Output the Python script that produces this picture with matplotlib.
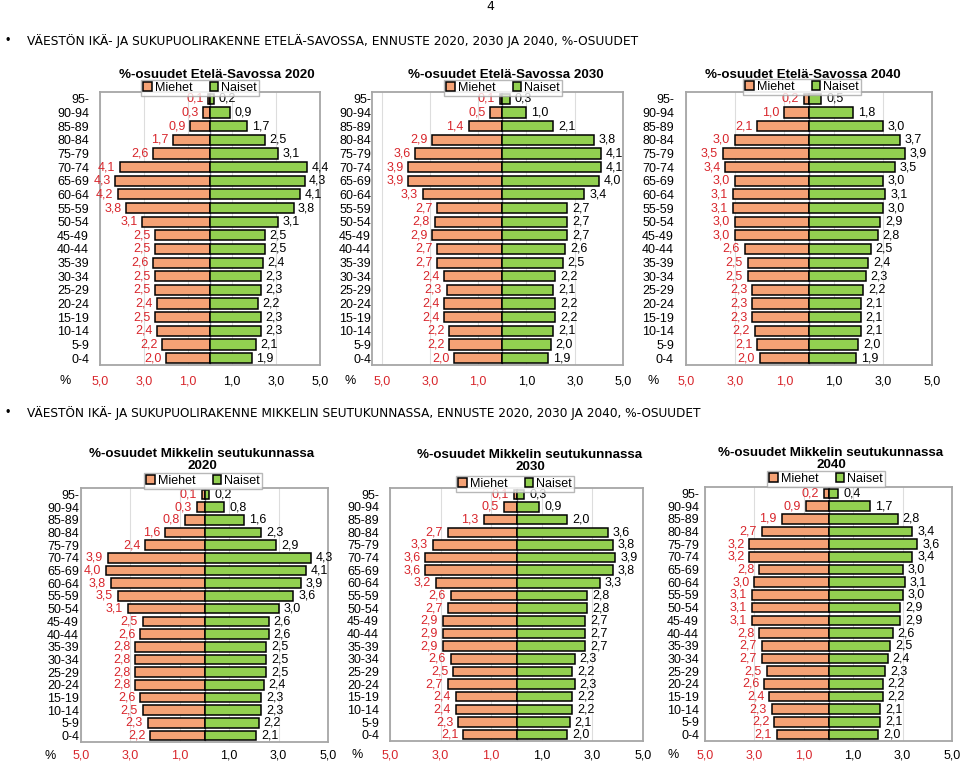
import numpy as np
import matplotlib.pyplot as plt

plt.rcParams['font.family'] = ['Liberation Sans', 'DejaVu Sans']

# age groups, top to bottom as in the pyramid
ages = ['95-', '90-94', '85-89', '80-84', '75-79', '70-74', '65-69', '60-64',
        '55-59', '50-54', '45-49', '40-44', '35-39', '30-34', '25-29',
        '20-24', '15-19', '10-14', '5-9', '0-4']

# Etelä-Savo
es2020_men = [0.1, 0.3, 0.9, 1.7, 2.6, 4.1, 4.3, 4.2, 3.8, 3.1, 2.5, 2.5, 2.6, 2.5, 2.5, 2.4, 2.5, 2.4, 2.2, 2.0]
es2020_women = [0.2, 0.9, 1.7, 2.5, 3.1, 4.4, 4.3, 4.1, 3.8, 3.1, 2.5, 2.5, 2.4, 2.3, 2.3, 2.2, 2.3, 2.3, 2.1, 1.9]
es2030_men = [0.1, 0.5, 1.4, 2.9, 3.6, 3.9, 3.9, 3.3, 2.7, 2.8, 2.9, 2.7, 2.7, 2.4, 2.3, 2.4, 2.4, 2.2, 2.2, 2.0]
es2030_women = [0.3, 1.0, 2.1, 3.8, 4.1, 4.1, 4.0, 3.4, 2.7, 2.7, 2.7, 2.6, 2.5, 2.2, 2.1, 2.2, 2.2, 2.1, 2.0, 1.9]
es2040_men = [0.2, 1.0, 2.1, 3.0, 3.5, 3.4, 3.0, 3.1, 3.1, 3.0, 3.0, 2.6, 2.5, 2.5, 2.3, 2.3, 2.3, 2.2, 2.1, 2.0]
es2040_women = [0.5, 1.8, 3.0, 3.7, 3.9, 3.5, 3.0, 3.1, 3.0, 2.9, 2.8, 2.5, 2.4, 2.3, 2.2, 2.1, 2.1, 2.1, 2.0, 1.9]

# Mikkelin seutukunta
mi2020_men = [0.1, 0.3, 0.8, 1.6, 2.4, 3.9, 4.0, 3.8, 3.5, 3.1, 2.5, 2.6, 2.8, 2.8, 2.8, 2.8, 2.6, 2.5, 2.3, 2.2]
mi2020_women = [0.2, 0.8, 1.6, 2.3, 2.9, 4.3, 4.1, 3.9, 3.6, 3.0, 2.6, 2.6, 2.5, 2.5, 2.5, 2.4, 2.3, 2.3, 2.2, 2.1]
mi2030_men = [0.1, 0.5, 1.3, 2.7, 3.3, 3.6, 3.6, 3.2, 2.6, 2.7, 2.9, 2.9, 2.9, 2.6, 2.5, 2.7, 2.4, 2.4, 2.3, 2.1]
mi2030_women = [0.3, 0.9, 2.0, 3.6, 3.8, 3.9, 3.8, 3.3, 2.8, 2.8, 2.7, 2.7, 2.7, 2.3, 2.2, 2.3, 2.2, 2.2, 2.1, 2.0]
mi2040_men = [0.2, 0.9, 1.9, 2.7, 3.2, 3.2, 2.8, 3.0, 3.1, 3.1, 3.1, 2.8, 2.7, 2.7, 2.5, 2.6, 2.4, 2.3, 2.2, 2.1]
mi2040_women = [0.4, 1.7, 2.8, 3.4, 3.6, 3.4, 3.0, 3.1, 3.0, 2.9, 2.9, 2.6, 2.5, 2.4, 2.3, 2.2, 2.2, 2.1, 2.1, 2.0]

xticks = [-5, -3, -1, 1, 3, 5]

W, H = 960, 767
fig = plt.figure(figsize=(W / 100, H / 100), dpi=100)

MEN_C = '#F5A275'
WOMEN_C = '#92D050'
RED = '#D8262C'


def fx(x):
    return x / W


def fy(y):
    return 1 - y / H


# title, men, women, box (x0, y0, x1, y1), xmin, title centre, legend centre, % x, ylabel pad px, xlabel pad px
panels = [
    ('%-osuudet Etelä-Savossa 2020', es2020_men, es2020_women, (100, 92, 320, 365), -5.0, (217, 75), (200, 88), 65, 11, 11),
    ('%-osuudet Etelä-Savossa 2030', es2030_men, es2030_women, (372, 92, 623, 365), -5.4, (506, 75), (503, 88), 350, 1, 11),
    ('%-osuudet Etelä-Savossa 2040', es2040_men, es2040_women, (686, 92, 932, 365), -5.0, (803, 75), (802, 87), 653, 12, 11),
    ('%-osuudet Mikkelin seutukunnassa\n2020', mi2020_men, mi2020_women, (81, 488, 328, 742), -5.0, (202, 460), (203, 481), 50, 2, 8),
    ('%-osuudet Mikkelin seutukunnassa\n2030', mi2030_men, mi2030_women, (390, 488, 643, 741), -5.0, (530, 461), (515, 484), 357, 11, 8),
    ('%-osuudet Mikkelin seutukunnassa\n2040', mi2040_men, mi2040_women, (705, 487, 952, 741), -5.0, (831, 459), (826, 479), 673, 6, 8),
]

y = np.arange(len(ages))[::-1]

for title, men, women, box, xmin, tpos, lpos, pct_x, ypad, xpad in panels:
    x0, y0, x1, y1 = box
    ax = fig.add_axes([fx(x0), fy(y1), fx(x1 - x0), (y1 - y0) / H])
    men = np.array(men)
    women = np.array(women)
    ax.barh(y, -men, height=0.75, color=MEN_C, edgecolor='black', linewidth=1.1, label='Miehet', zorder=3)
    ax.barh(y, women, height=0.75, color=WOMEN_C, edgecolor='black', linewidth=1.1, label='Naiset', zorder=3)
    for yi, m, w in zip(y, men, women):
        ax.text(-m - 0.2, yi, f'{m:.1f}'.replace('.', ','), ha='right', va='center',
                fontsize=9, color=RED, zorder=4)
        ax.text(w + 0.2, yi, f'{w:.1f}'.replace('.', ','), ha='left', va='center',
                fontsize=9, color='black', zorder=4)
    ax.set_xlim(xmin, 5)
    ax.set_ylim(-0.5, len(ages) - 0.5)
    ax.set_xticks(xticks)
    ax.set_xticklabels([f'{abs(t):.1f}'.replace('.', ',') for t in xticks], fontsize=9)
    for lab, t in zip(ax.get_xticklabels(), xticks):
        lab.set_color(RED if t < 0 else 'black')
    ax.set_yticks(y)
    ax.set_yticklabels(ages, fontsize=9)
    ax.tick_params(axis='y', length=0, pad=ypad * 0.72)
    ax.tick_params(axis='x', length=0, pad=xpad * 0.72)
    ax.grid(axis='x', color='#DDDDDD', linewidth=0.8, zorder=0)
    ax.axvline(0, color='#8080A0', linewidth=1.0, zorder=2)
    for s in ax.spines.values():
        s.set_color('#A6A6A6')
        s.set_linewidth(1.3)
    leg = ax.legend(loc='center', bbox_to_anchor=(fx(lpos[0]), fy(lpos[1])),
                    bbox_transform=fig.transFigure, ncol=2, fontsize=9, frameon=True,
                    fancybox=False, handlelength=0.7, handleheight=0.7, handletextpad=0.2,
                    columnspacing=1.4, borderpad=0.15, borderaxespad=0)
    leg.get_frame().set_edgecolor('#A6A6A6')
    leg.get_frame().set_linewidth(1.0)
    leg.set_zorder(10)
    fig.text(fx(tpos[0]), fy(tpos[1]), title, ha='center', va='center', fontsize=9.6,
             fontweight='bold', linespacing=0.98)
    fig.text(fx(pct_x), fy(y1 + 16 if y0 < 200 else y1 + 14), '%', ha='center', va='center', fontsize=9)

head_font = ['Liberation Sans Narrow', 'DejaVu Sans']
fig.text(fx(490), fy(7), '4', ha='center', va='center', fontsize=9, family=head_font)
fig.text(fx(8), fy(41), '•', ha='center', va='center', fontsize=9)
fig.text(fx(27), fy(41), 'VÄESTÖN IKÄ- JA SUKUPUOLIRAKENNE ETELÄ-SAVOSSA, ENNUSTE 2020, 2030 JA 2040, %-OSUUDET',
         ha='left', va='center', fontsize=8.8, family=head_font)
fig.text(fx(8), fy(413), '•', ha='center', va='center', fontsize=9)
fig.text(fx(27), fy(413), 'VÄESTÖN IKÄ- JA SUKUPUOLIRAKENNE MIKKELIN SEUTUKUNNASSA, ENNUSTE 2020, 2030 JA 2040, %-OSUUDET',
         ha='left', va='center', fontsize=8.7, family=head_font)

fig.savefig('out.png', dpi=100)
